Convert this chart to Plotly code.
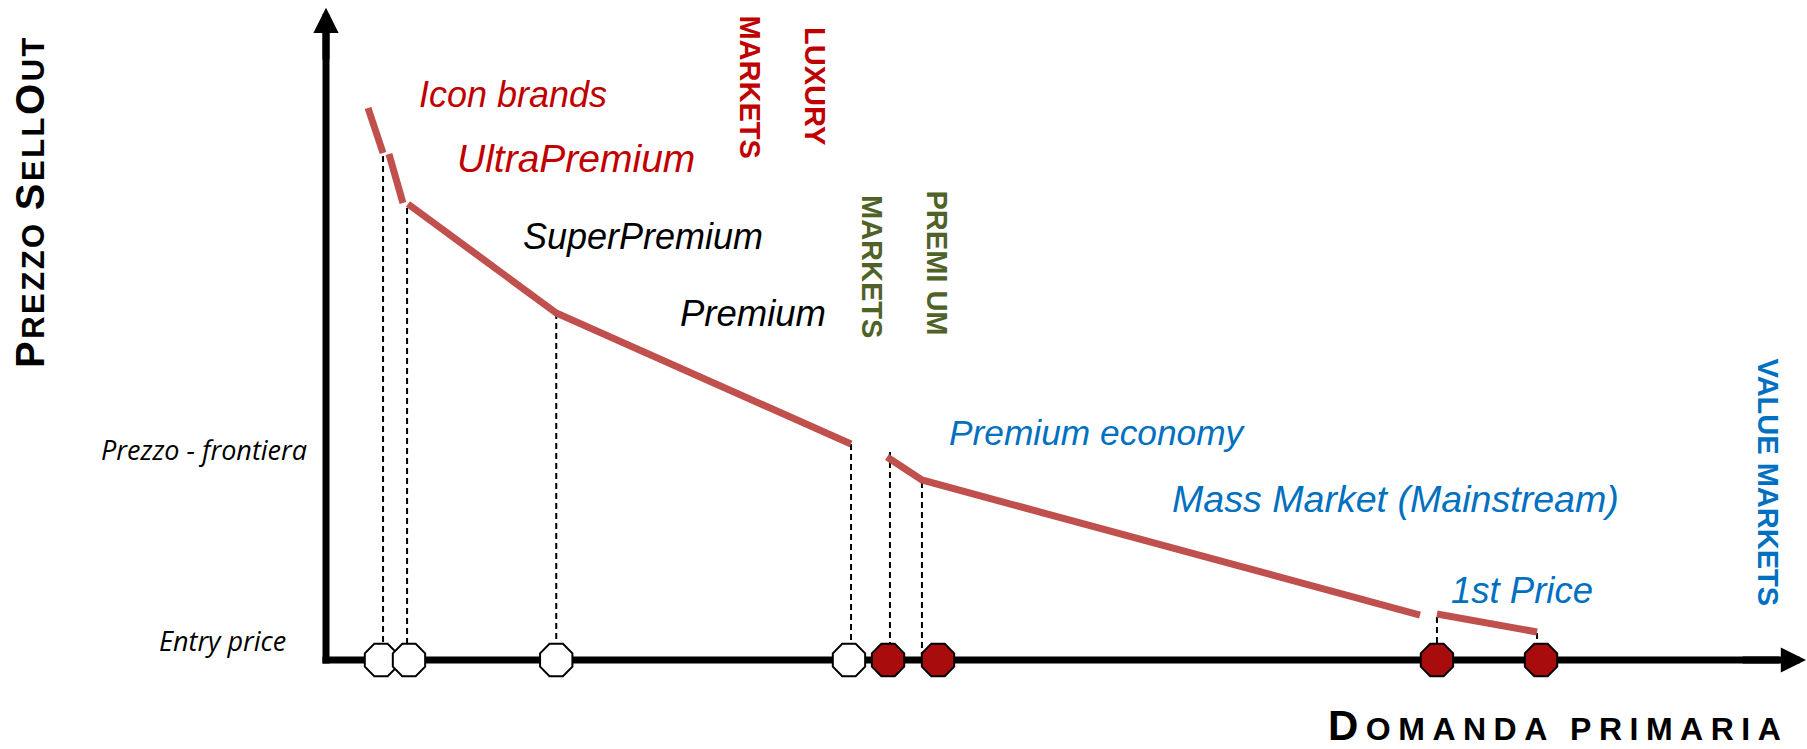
import plotly.graph_objects as go

# ---------------- data (index units, 0-100 on both axes) ----------------
# sell-out price curve, broken into its drawn pieces (None = gap)
curve_x = [2.85, 3.87, None, 4.27, 5.22, None, 5.56, 15.62, 35.62, None,
           38.06, 40.43, 74.22, None, 75.37, 82.16]
curve_y = [84.79, 77.88, None, 77.73, 70.20, None, 70.05, 53.30, 33.18, None,
           31.18, 27.65, 6.91, None, 7.07, 4.30]

# dashed drop lines from the curve break points to the demand axis
drop_x = [3.87, 5.50, 15.62, 35.62, 38.26, 40.43, 75.37, 82.16]
drop_top = [77.42, 69.43, 53.30, 33.18, 31.95, 27.34, 6.61, 4.15]

# segment thresholds on the demand axis
premium_points_x = [3.73, 5.63, 15.62, 35.48]
value_points_x = [38.13, 41.52, 75.37, 82.43]

# segment names
segment_names = ["Icon brands", "UltraPremium", "SuperPremium", "Premium",
                 "Premium economy", "Mass Market (Mainstream)", "1st Price"]
market_names = ["MARKETS", "LUXURY", "MARKETS", "PREMI UM", "VALUE MARKETS"]
price_level_names = ["Prezzo - frontiera", "Entry price"]
price_level_values = [32.26, 3.07]

# ---------------- styles / layout ----------------
RED = "#C00000"
BLUE = "#0070C0"
GREEN = "#4F6228"
CURVE = "#C0504D"
FONT = "Liberation Sans, Arial, sans-serif"

seg_pos = [(6.17, 86.94), (8.75, 76.96), (13.23, 65.13), (23.88, 53.30),
           (42.13, 35.02), (57.26, 24.73), (76.19, 10.75)]
seg_col = [RED, RED, "#000000", "#000000", BLUE, BLUE, BLUE]
seg_size = [36, 39, 36, 36.5, 35.3, 37.6, 36.5]
mkt_pos = [(28.70, 88.10), (33.17, 88.17), (37.04, 60.37), (41.45, 60.91), (97.83, 27.27)]
mkt_col = [RED, RED, GREEN, GREEN, BLUE]
lvl_right = [-1.15, -2.58]

fig = go.Figure()

# dashed drop lines
dx, dy = [], []
for x, top in zip(drop_x, drop_top):
    dx += [x, x, None]
    dy += [top, 0, None]
fig.add_trace(go.Scatter(x=dx, y=dy, mode="lines", hoverinfo="skip",
                         line=dict(color="#000000", width=2, dash="6px,4px")))

# price curve
fig.add_trace(go.Scatter(x=curve_x, y=curve_y, mode="lines", hoverinfo="skip",
                         line=dict(color=CURVE, width=7)))

# threshold markers
fig.add_trace(go.Scatter(x=premium_points_x, y=[0] * len(premium_points_x), mode="markers",
                         marker=dict(symbol="octagon", size=35, color="#FFFFFF",
                                     line=dict(color="#000000", width=2))))
fig.add_trace(go.Scatter(x=value_points_x, y=[0] * len(value_points_x), mode="markers",
                         marker=dict(symbol="octagon", size=35, color="#A80C0C",
                                     line=dict(color="#000000", width=2))))

# axis shafts (below traces)
shapes = [
    dict(type="line", xref="x", yref="y", x0=-0.24, y0=0, x1=98.6, y1=0,
         line=dict(color="#000000", width=7), layer="below"),
    dict(type="line", xref="x", yref="y", x0=0, y0=-0.54, x1=0, y1=96.5,
         line=dict(color="#000000", width=7), layer="below"),
]

annotations = []
# arrow heads
annotations.append(dict(x=100.41, y=0, ax=96.0, ay=0, xref="x", yref="y", axref="x", ayref="y",
                        text="", showarrow=True, arrowhead=2, arrowsize=0.72, arrowwidth=7,
                        arrowcolor="#000000", standoff=0))
annotations.append(dict(x=0, y=100.2, ax=0, ay=92.0, xref="x", yref="y", axref="x", ayref="y",
                        text="", showarrow=True, arrowhead=2, arrowsize=0.72, arrowwidth=7,
                        arrowcolor="#000000", standoff=0))

# segment labels
for name, (x, y), c, s in zip(segment_names, seg_pos, seg_col, seg_size):
    annotations.append(dict(x=x, y=y, xref="x", yref="y", text=name, showarrow=False,
                            xanchor="left", yanchor="middle",
                            font=dict(family=FONT, size=s, color=c, style="italic")))

# market labels (vertical)
for name, (x, y), c in zip(market_names, mkt_pos, mkt_col):
    annotations.append(dict(x=x, y=y, xref="x", yref="y", text="<b>%s</b>" % name, showarrow=False,
                            textangle=90, xanchor="center", yanchor="middle",
                            font=dict(family=FONT, size=29, color=c)))

# price levels on the price axis
for name, v, xr in zip(price_level_names, price_level_values, lvl_right):
    annotations.append(dict(x=xr, y=v, xref="x", yref="y", text=name, showarrow=False,
                            xanchor="right", yanchor="middle",
                            font=dict(family="Open Sans, sans-serif", size=27, color="#000000",
                                      style="italic")))

# axis titles (small caps)
def small_caps(word_parts, big, small, ls):
    out = ""
    for txt, is_big in word_parts:
        size = big if is_big else small
        out += '<span style="font-size:%dpx;letter-spacing:%spx">%s</span>' % (size, ls, txt)
    return "<b>" + out + "</b>"

y_title = small_caps([("P", True), ("REZZO ", False), ("S", True), ("ELL", False),
                      ("O", True), ("UT", False)], 40, 31, 2.5)
x_title = small_caps([("D", True), ("OMANDA PRIMARIA", False)], 42, 32, 7.5)

annotations.append(dict(x=-20.08, y=70.35, xref="x", yref="y", text=y_title, showarrow=False,
                        textangle=-90, xanchor="center", yanchor="middle",
                        font=dict(family=FONT, size=31, color="#000000")))
annotations.append(dict(x=83.55, y=-10.0, xref="x", yref="y", text=x_title, showarrow=False,
                        xanchor="center", yanchor="middle",
                        font=dict(family=FONT, size=32, color="#000000")))

fig.update_layout(
    width=1807, height=749,
    margin=dict(l=0, r=0, t=0, b=0),
    paper_bgcolor="#FFFFFF", plot_bgcolor="#FFFFFF",
    showlegend=False,
    shapes=shapes,
    annotations=annotations,
    xaxis=dict(range=[-22.117, 100.475], visible=False, fixedrange=True),
    yaxis=dict(range=[-13.671, 101.382], visible=False, fixedrange=True),
)

fig.write_html("out.html", config={"displayModeBar": False})
